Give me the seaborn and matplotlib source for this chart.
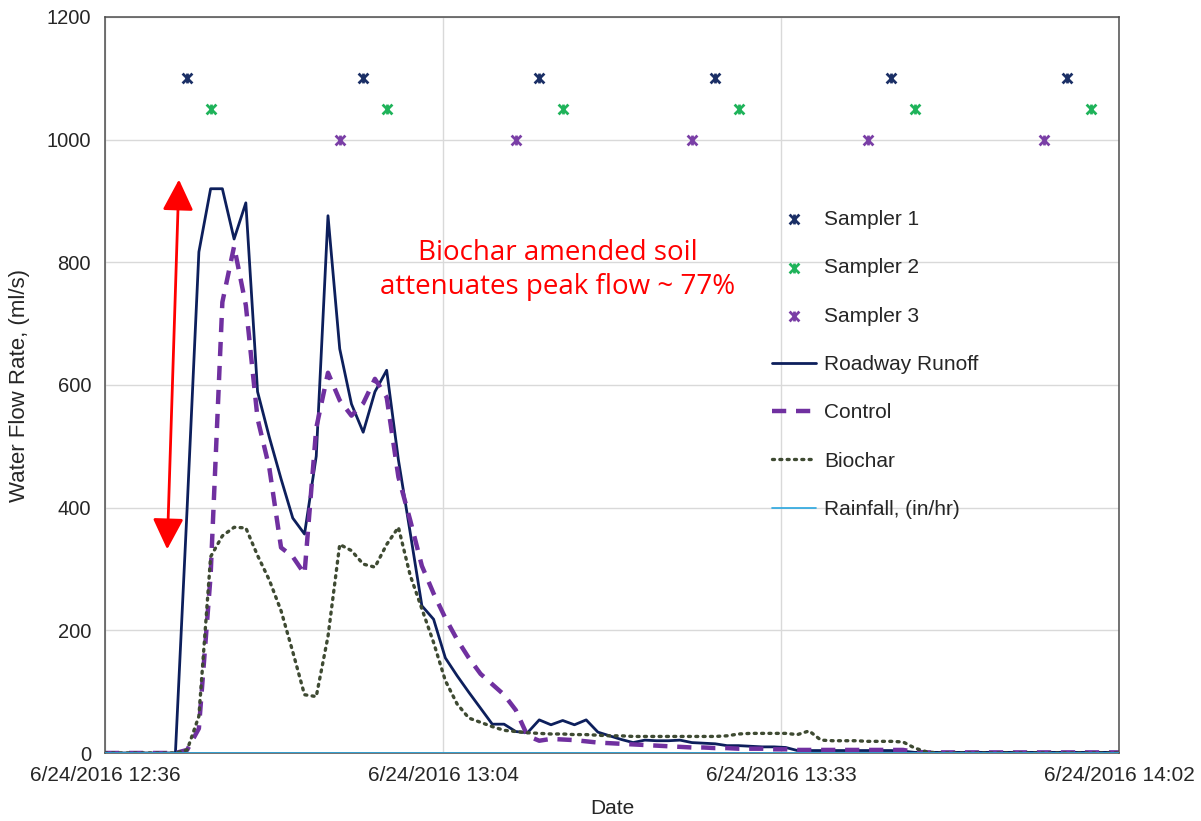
import pandas as pd
import seaborn as sns
import matplotlib.pyplot as plt
import matplotlib.dates as mdates
from matplotlib.path import Path

# flow readings, one per minute starting 6/24/2016 12:36
minutes = list(range(88))
runoff = [
    0, 0, 0, 0, 0, 0, 0, 400, 817, 920,
    920, 838, 897, 589, 515, 447, 383, 357, 484, 876,
    659, 569, 523, 589, 624, 478, 360, 240, 218, 155,
    126, 99, 73, 47, 47, 35, 33, 54, 46, 53,
    46, 54, 34, 28, 22, 17, 21, 20, 20, 21,
    17, 16, 15, 12, 12, 11, 10, 10, 9, 4,
    4, 4, 4, 4, 4, 4, 4, 4, 3, 1,
    1, 1, 1, 1, 1, 1, 1, 1, 1, 1,
    1, 1, 1, 1, 1, 1, 1, 1,
]
control = [
    0, 0, 0, 0, 0, 0, 0, 5, 40, 290,
    735, 826, 730, 545, 465, 335, 320, 292, 530, 620,
    575, 550, 570, 610, 580, 450, 380, 305, 260, 220,
    185, 155, 129, 112, 95, 70, 28, 20, 23, 22,
    21, 19, 17, 16, 15, 14, 13, 12, 11, 10,
    9, 9, 8, 8, 7, 7, 7, 6, 6, 5,
    5, 5, 5, 5, 5, 5, 5, 5, 5, 2,
    1, 1, 1, 1, 1, 1, 1, 1, 1, 1,
    1, 1, 1, 1, 1, 1, 1, 1,
]
biochar = [
    0, 0, 0, 0, 0, 0, 0, 5, 60, 320,
    354, 368, 367, 322, 282, 232, 165, 95, 92, 190,
    340, 330, 308, 303, 340, 368, 290, 235, 180, 118,
    80, 57, 50, 43, 37, 35, 33, 32, 31, 31,
    30, 30, 29, 28, 28, 27, 27, 27, 27, 27,
    27, 27, 27, 28, 31, 32, 32, 32, 32, 30,
    36, 21, 20, 20, 20, 19, 19, 19, 18, 8,
    2, 0, 0, 0, 0, 0, 0, 0, 0, 0,
    0, 0, 0, 0, 0, 0, 0, 0,
]
rainfall = [
    0, 0, 0, 0, 0, 0, 0, 0, 0, 0,
    0, 0, 0, 0, 0, 0, 0, 0, 0, 0,
    0, 0, 0, 0, 0, 0, 0, 0, 0, 0,
    0, 0, 0, 0, 0, 0, 0, 0, 0, 0,
    0, 0, 0, 0, 0, 0, 0, 0, 0, 0,
    0, 0, 0, 0, 0, 0, 0, 0, 0, 0,
    0, 0, 0, 0, 0, 0, 0, 0, 0, 0,
    0, 0, 0, 0, 0, 0, 0, 0, 0, 0,
    0, 0, 0, 0, 0, 0, 0, 0,
]

# sampler trigger times (minutes after 12:36) and plotting levels
sampler1_min = [7, 22, 37, 52, 67, 82]
sampler2_min = [9, 24, 39, 54, 69, 84]
sampler3_min = [20, 35, 50, 65, 80]
sampler_levels = [1100, 1050, 1000]

start = pd.Timestamp("2016-06-24 12:36:00")
df = pd.DataFrame({
    "Date": start + pd.to_timedelta(minutes, unit="min"),
    "Roadway Runoff": runoff,
    "Control": control,
    "Biochar": biochar,
    "Rainfall": rainfall,
})

sns.set_style("white")
plt.rcParams["font.family"] = ["Liberation Sans", "DejaVu Sans"]

fig, ax = plt.subplots(figsize=(12.01, 8.21), dpi=100)
fig.subplots_adjust(left=105 / 1201, right=1119 / 1201,
                    top=1 - 17 / 821, bottom=1 - 753 / 821)

# excel style "star" marker: x with a vertical bar
star = Path([(-1, -1), (1, 1), (-1, 1), (1, -1), (0, -1), (0, 1)],
            [Path.MOVETO, Path.LINETO, Path.MOVETO, Path.LINETO,
             Path.MOVETO, Path.LINETO])

samplers = [
    ("Sampler 1", sampler1_min, "#1b2f66"),
    ("Sampler 2", sampler2_min, "#1fb35a"),
    ("Sampler 3", sampler3_min, "#7a3fa6"),
]
for (name, mins, col), level in zip(samplers, sampler_levels):
    sdf = pd.DataFrame({
        "Date": start + pd.to_timedelta(mins, unit="min"),
        "Flow": [level] * len(mins),
    })
    sns.scatterplot(data=sdf, x="Date", y="Flow", marker=star, s=50,
                    color=col, edgecolor=col, linewidth=2.0,
                    label=name, ax=ax, zorder=5)

sns.lineplot(data=df, x="Date", y="Roadway Runoff", color="#0d1f5c",
             linewidth=2.0, label="Roadway Runoff", ax=ax)
sns.lineplot(data=df, x="Date", y="Control", color="#7030a0",
             linewidth=3.2, linestyle=(0, (3.2, 2.2)), label="Control", ax=ax)
sns.lineplot(data=df, x="Date", y="Biochar", color="#3e4a32",
             linewidth=2.4, linestyle=(0, (0.6, 1.6)),
             dash_capstyle="round", label="Biochar", ax=ax)
sns.lineplot(data=df, x="Date", y="Rainfall", color="#2aa7e0",
             linewidth=1.2, label="Rainfall, (in/hr)", ax=ax, zorder=3)

ax.set_xlim(start, start + pd.Timedelta(minutes=86.4))
ax.set_ylim(0, 1200)
ax.set_yticks(range(0, 1201, 200))
ax.set_xticks(pd.date_range(start, periods=4, freq="1728s"))
ax.xaxis.set_major_formatter(mdates.DateFormatter("%-m/%d/%Y %H:%M"))

ax.grid(True, color="#d9d9d9", linewidth=1.0)
ax.set_axisbelow(True)
for sp in ax.spines.values():
    sp.set_visible(True)
    sp.set_color("#4d4d4d")
    sp.set_linewidth(1.1)
ax.tick_params(axis="y", direction="out", length=6, width=1,
               color="#4d4d4d", labelsize=14.5, pad=4)
ax.tick_params(axis="x", direction="inout", length=10, width=1,
               color="#4d4d4d", labelsize=15, pad=4)

ax.set_ylabel("Water Flow Rate, (ml/s)", fontsize=16)
ax.yaxis.set_label_coords(-0.074, 0.5)
ax.set_xlabel("Date", fontsize=15)
ax.xaxis.set_label_coords(0.5, -0.0625)

# red double arrow showing peak attenuation
ax.annotate("", xy=(start + pd.Timedelta(minutes=6.3), 935),
            xytext=(start + pd.Timedelta(minutes=5.3), 332),
            arrowprops=dict(arrowstyle="<|-|>,head_length=1.9,head_width=0.95",
                            color="#ff0000", lw=2, shrinkA=0, shrinkB=0,
                            mutation_scale=10))
ax.text(start + pd.Timedelta(minutes=38.6), 788,
        "Biochar amended soil\nattenuates peak flow ~ 77%",
        ha="center", va="center", color="#ff0000", fontsize=20,
        family=["Open Sans", "DejaVu Sans"], linespacing=1.3)

ax.legend(loc="upper left", bbox_to_anchor=(0.658, 0.738), frameon=False,
          fontsize=15, labelspacing=1.41, handlelength=2.1,
          handletextpad=0.4, borderaxespad=0, borderpad=0)

plt.savefig("out.png", dpi=100)
